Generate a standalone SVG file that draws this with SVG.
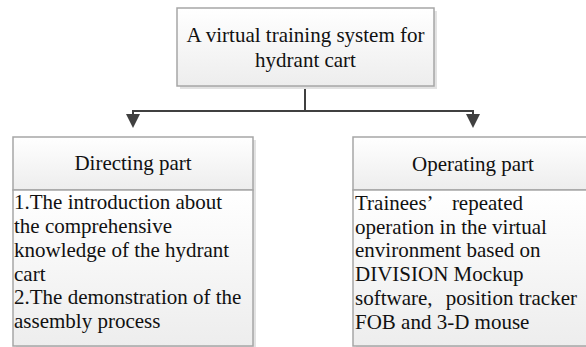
<svg xmlns="http://www.w3.org/2000/svg" width="586" height="347" viewBox="0 0 586 347">
<defs>
<linearGradient id="g" x1="0" y1="0" x2="0" y2="1">
<stop offset="0" stop-color="#ffffff"/>
<stop offset="1" stop-color="#ededed"/>
</linearGradient>
<marker id="arr" markerWidth="14" markerHeight="14" refX="12" refY="7" orient="auto" markerUnits="userSpaceOnUse">
<path d="M0,0 L14,7 L0,14 z" fill="#404040"/>
</marker>
<style>
.shadow{fill:#e2e2e2}
.box{fill:url(#g);stroke:#a6a6a6;stroke-width:1.5}
.t{font-family:"Liberation Serif","Times New Roman",serif;font-size:21px;fill:#111111}
.c{text-anchor:middle}
.e{text-anchor:end}
.conn{fill:none;stroke:#404040;stroke-width:2}
</style>
</defs>
<g id="connectors">
<path class="conn" d="M305,87 V111 H133 V126" marker-end="url(#arr)"/>
<path class="conn" d="M305,111 H473 V126" marker-end="url(#arr)"/>
</g>
<g id="root">
<rect class="shadow" x="180" y="11" width="257" height="78"/>
<rect class="box" x="177" y="8" width="257" height="78"/>
<text class="t c" x="305.5" y="42">A virtual training system for</text>
<text class="t c" x="305.5" y="67">hydrant cart</text>
</g>
<g id="directing">
<rect class="shadow" x="16" y="140" width="240" height="210"/>
<rect class="box" x="13" y="137" width="240" height="53"/>
<rect class="box" x="13" y="190" width="240" height="156"/>
<text class="t c" x="133" y="170">Directing part</text>
<text class="t" x="14" y="209">1.The introduction about</text>
<text class="t" x="14" y="233">the comprehensive</text>
<text class="t" x="14" y="257">knowledge of the hydrant</text>
<text class="t" x="14" y="281">cart</text>
<text class="t" x="14" y="304">2.The demonstration of the</text>
<text class="t" x="14" y="328">assembly process</text>
</g>
<g id="operating">
<rect class="shadow" x="356" y="140" width="240" height="210"/>
<rect class="box" x="353" y="137" width="240" height="53"/>
<rect class="box" x="353" y="190" width="240" height="156"/>
<text class="t c" x="473" y="171">Operating part</text>
<text class="t" x="355" y="210">Trainees’</text>
<text class="t e" x="523" y="210">repeated</text>
<text class="t" x="355" y="234">operation in the virtual</text>
<text class="t" x="355" y="257">environment based on</text>
<text class="t" x="355" y="281">DIVISION Mockup</text>
<text class="t" x="355" y="305">software,</text>
<text class="t e" x="577" y="305">position tracker</text>
<text class="t" x="355" y="329">FOB and 3-D mouse</text>
</g>
</svg>
